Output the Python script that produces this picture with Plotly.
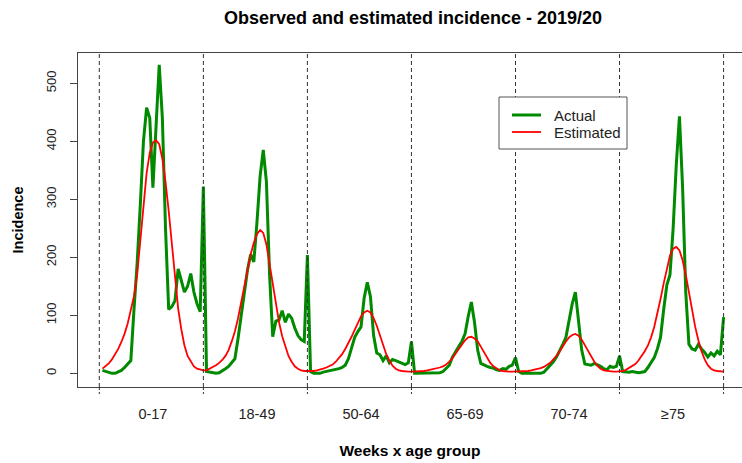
import plotly.graph_objects as go

# Age groups shown along the x axis; every group covers the same run of weeks
age_groups = ["0-17", "18-49", "50-64", "65-69", "70-74", "≥75"]
weeks_per_group = 33

# Observed weekly incidence per age group
actual_0_17 = [5, 3, 2, 0, 0, 2, 5, 10, 16, 22, 110, 190, 290, 400, 458, 440, 320,
               440, 532, 440, 250, 110, 115, 125, 180, 160, 140, 150, 172, 140, 120, 106, 322]
actual_18_49 = [3, 2, 0, 0, 1, 4, 8, 12, 18, 25, 60, 98, 140, 178, 205, 192, 260,
                340, 385, 330, 170, 63, 90, 92, 108, 88, 102, 95, 78, 65, 58, 55, 204]
actual_50_64 = [3, 0, 0, 0, 2, 3, 4, 5, 6, 8, 10, 14, 25, 42, 62, 72, 80,
                130, 157, 132, 65, 35, 32, 22, 30, 18, 24, 22, 20, 18, 15, 18, 55]
actual_65_69 = [0, 0, 0, 0, 0, 0, 0, 0, 1, 3, 8, 14, 28, 38, 46, 55, 68,
                98, 123, 88, 40, 17, 14, 12, 10, 9, 6, 5, 8, 7, 12, 14, 27]
actual_70_74 = [3, 0, 0, 0, 0, 0, 0, 0, 2, 8, 14, 20, 28, 38, 50, 62, 95,
                120, 140, 90, 40, 16, 15, 14, 17, 15, 12, 8, 6, 12, 10, 12, 30]
actual_75_plus = [3, 2, 2, 3, 2, 1, 2, 3, 10, 18, 27, 42, 62, 110, 152, 170, 250,
                  360, 443, 320, 140, 50, 42, 40, 50, 42, 36, 28, 35, 30, 38, 32, 97]

# Model-estimated weekly incidence per age group
estimated_0_17 = [8, 12, 17, 24, 32, 42, 54, 68, 86, 108, 133, 170, 225, 290, 345, 380, 398,
                  402, 395, 370, 330, 280, 222, 165, 112, 76, 48, 30, 20, 12, 8, 6, 5]
estimated_18_49 = [5, 8, 10, 14, 18, 23, 30, 40, 55, 72, 95, 122, 150, 180, 205, 225, 240,
                   247, 242, 222, 190, 152, 120, 88, 64, 45, 30, 20, 12, 8, 5, 4, 4]
estimated_50_64 = [3, 4, 5, 6, 8, 10, 12, 15, 20, 26, 33, 42, 52, 63, 75, 88, 98,
                   105, 108, 105, 95, 82, 66, 50, 33, 22, 13, 8, 5, 4, 3, 3, 3]
estimated_65_69 = [3, 3, 3, 4, 5, 6, 7, 8, 10, 12, 15, 20, 26, 34, 42, 50, 57,
                   62, 63, 60, 55, 46, 36, 26, 18, 12, 8, 5, 4, 3, 3, 3, 3]
estimated_70_74 = [3, 3, 3, 4, 5, 6, 7, 9, 11, 14, 18, 24, 30, 38, 47, 55, 62,
                   66, 68, 65, 58, 48, 38, 28, 20, 13, 8, 5, 4, 3, 3, 3, 3]
estimated_75_plus = [4, 6, 9, 12, 16, 22, 29, 38, 48, 62, 80, 102, 128, 155, 182, 203, 215,
                     218, 212, 195, 170, 140, 108, 80, 57, 38, 24, 14, 8, 5, 4, 3, 3]

actual = (actual_0_17 + actual_18_49 + actual_50_64 +
          actual_65_69 + actual_70_74 + actual_75_plus)
estimated = (estimated_0_17 + estimated_18_49 + estimated_50_64 +
             estimated_65_69 + estimated_70_74 + estimated_75_plus)
week_index = list(range(1, len(actual) + 1))

n_groups = len(age_groups)
boundaries = [g * weeks_per_group for g in range(n_groups + 1)]
centers = [g * weeks_per_group + (weeks_per_group + 1) / 2 for g in range(n_groups)]

W, H = 742, 463
ML, MR, MT, MB = 78, 0, 53, 76
plot_w = W - ML - MR
plot_h = H - MT - MB


def px_x(px):
    """Horizontal pixel position -> paper fraction of the plot area."""
    return (px - ML) / plot_w


def px_y(py):
    """Vertical pixel position (from top) -> paper fraction of the plot area."""
    return (H - MB - py) / plot_h


ACTUAL_COLOR = "#008a00"
ESTIMATED_COLOR = "#ff0000"

fig = go.Figure()
fig.add_trace(go.Scatter(x=week_index, y=actual, mode="lines", name="Actual",
                         showlegend=False,
                         line=dict(color=ACTUAL_COLOR, width=3)))
fig.add_trace(go.Scatter(x=week_index, y=estimated, mode="lines", name="Estimated",
                         showlegend=False,
                         line=dict(color=ESTIMATED_COLOR, width=1.8)))

# Dashed separators between age groups, plus short dashed ticks under the axis
shapes = []
for b in boundaries:
    shapes.append(dict(type="line", xref="x", yref="paper", x0=b, x1=b, y0=0, y1=1,
                       line=dict(color="#333333", width=1, dash="4px,3px")))
    shapes.append(dict(type="line", xref="x", yref="paper", x0=b, x1=b, y0=0,
                       y1=-7 / plot_h,
                       line=dict(color="#333333", width=1, dash="3px,2px")))

# Boxed key in the upper right
shapes.append(dict(type="rect", xref="paper", yref="paper",
                   x0=px_x(499), x1=px_x(627), y0=px_y(149), y1=px_y(97),
                   fillcolor="white", line=dict(color="#555555", width=1)))
legend_rows = [("Actual", ACTUAL_COLOR, 3, 115), ("Estimated", ESTIMATED_COLOR, 1.8, 132)]
annotations = []
for label, color, width, py in legend_rows:
    shapes.append(dict(type="line", xref="paper", yref="paper",
                       x0=px_x(512), x1=px_x(541), y0=px_y(py), y1=px_y(py),
                       line=dict(color=color, width=width)))
    annotations.append(dict(text=label, xref="paper", yref="paper",
                            x=px_x(552), y=px_y(py), xanchor="left", yanchor="middle",
                            showarrow=False, font=dict(size=15, color="#222222")))

fig.update_layout(
    width=W, height=H,
    margin=dict(l=ML, r=MR, t=MT, b=MB),
    paper_bgcolor="white", plot_bgcolor="white",
    font=dict(family="Liberation Sans, Arial, sans-serif", color="#222222"),
    title=dict(text="<b>Observed and estimated incidence - 2019/20</b>",
               xref="paper", x=px_x(413), xanchor="center",
               yref="container", y=1 - 18 / H, yanchor="middle",
               font=dict(size=18, color="black")),
    showlegend=False,
    shapes=shapes,
    annotations=annotations,
)

fig.update_xaxes(
    range=[-6.76, 203.84],
    tickmode="array", tickvals=centers, ticktext=age_groups,
    ticks="", ticklabelstandoff=14,
    tickfont=dict(size=14.5, color="#222222"),
    showline=True, linecolor="#444444", linewidth=1, mirror=True,
    showgrid=False, zeroline=False,
    title=dict(text="<b>Weeks x age group</b>", font=dict(size=15.5, color="black"),
               standoff=23),
)
fig.update_yaxes(
    range=[-23.6, 552.2],
    tickmode="array", tickvals=[0, 100, 200, 300, 400, 500],
    ticks="outside", ticklen=7, tickcolor="#444444", tickangle=-90,
    ticklabelstandoff=9,
    tickfont=dict(size=13, color="#222222"),
    showline=True, linecolor="#444444", linewidth=1, mirror=False,
    showgrid=False, zeroline=False,
    title=dict(text="<b>Incidence</b>", font=dict(size=14.5, color="black"),
               standoff=16),
)

fig.write_html("out.html")
